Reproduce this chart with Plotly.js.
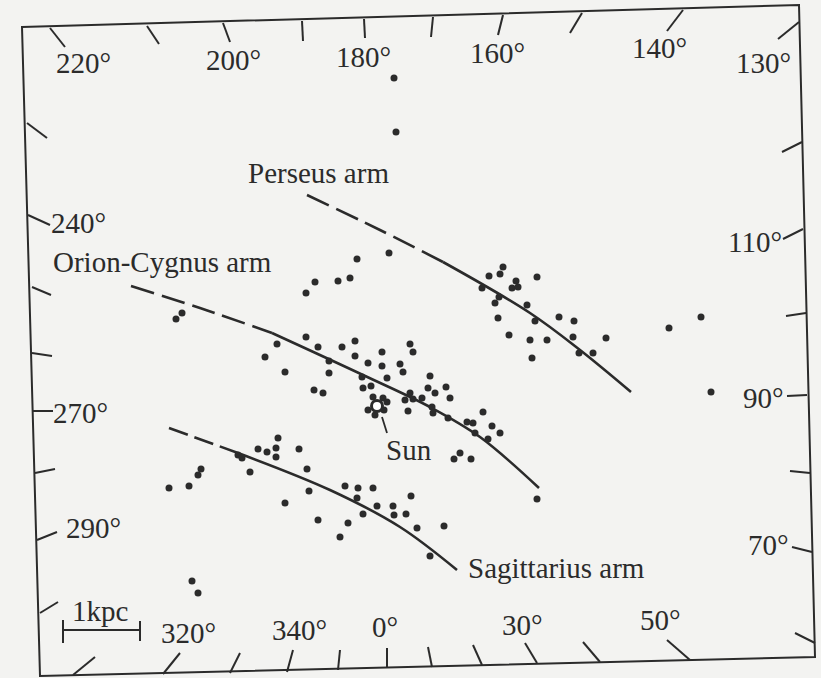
<!DOCTYPE html>
<html>
<head>
<meta charset="utf-8">
<script src="https://cdn.plot.ly/plotly-3.0.1.min.js"></script>
<style>html,body{margin:0;padding:0;background:#f3f3f1;}#chart{width:821px;height:678px;}</style>
</head>
<body>
<div id="chart"></div>
<script>
// ---- Data (map units) ----
// HII regions / young objects
const dotX = [394,396,389,357,315,306,338,350,176,182,
  306,277,265,318,329,285,329,314,323,342,355,355,368,382,382,410,413,400,403,387,362,363,371,430,428,435,446,450,410,413,405,422,408,432,433,448,467,473,475,483,492,500,488,460,454,471,537,
  368,373,383,387,384,375,
  489,500,503,537,482,512,516,518,495,499,527,498,535,559,574,509,530,547,573,606,579,593,532,669,701,711,
  278,258,267,276,276,299,238,242,250,307,309,201,198,189,169,285,345,358,373,357,411,377,393,363,394,406,318,348,340,417,444,430,192,198];
const dotY = [78,132,253,259,282,293,281,278,319,313,
  337,344,357,347,361,372,373,390,393,347,341,356,363,352,366,344,352,364,372,378,377,388,386,376,388,393,387,398,393,399,400,398,411,407,413,418,422,423,433,412,426,433,439,453,459,459,499,
  410,397,398,402,410,415,
  276,274,267,277,288,288,281,287,303,297,305,318,321,317,321,335,340,340,337,338,353,353,358,328,317,392,
  438,449,452,448,457,449,455,458,472,469,491,469,475,486,488,503,486,488,488,498,496,506,506,514,515,514,520,523,537,528,526,556,581,593];

// Sun position
const sunX = [377];
const sunY = [406];

// Spiral arms (dashed part, then solid part)
const perseusDashX = [307,380,443];
const perseusDashY = [195,230,262];
const perseusX = [443,530,580,631];
const perseusY = [262,313,350,392];

const orionDashX = [131,200,272];
const orionDashY = [286,308,333];
const orionX = [272,363,430,480,539];
const orionY = [333,375,407,437,488];

const sagDashX = [169,238];
const sagDashY = [428,453];
const sagX = [238,330,400,457];
const sagY = [453,490,527,570];

// Galactic longitude labels
const lonLabels = ["220°","200°","180°","160°","140°","130°","110°","90°","70°","50°","30°","0°","340°","320°","290°","270°","240°"];
const lonLabelX = [83,233,363,497,659,763,755,763,768,660,522,385,299,188,93,80,78];
const lonLabelY = [63,60,57,53,48,63,242,398,545,620,625,627,630,633,528,413,223];

const armLabels = ["Perseus arm","Orion-Cygnus arm","Sagittarius arm","Sun","1kpc"];
const armLabelX = [318,162,556,409,100];
const armLabelY = [173,262,568,450,611];

// ---- Styling ----
const INK = '#2b2b2b';
const FONT = 'Liberation Serif, Times New Roman, serif';

const traces = [];
function arm(x, y, dash) {
  traces.push({x: x, y: y, mode: 'lines', type: 'scatter', hoverinfo: 'skip',
    line: {color: INK, width: 2.6, dash: dash, shape: 'spline', smoothing: 1}});
}
arm(perseusDashX, perseusDashY, '24px,8px');
arm(perseusX, perseusY, 'solid');
arm(orionDashX, orionDashY, '24px,8px');
arm(orionX, orionY, 'solid');
arm(sagDashX, sagDashY, '20px,7px');
arm(sagX, sagY, 'solid');

traces.push({x: dotX, y: dotY, mode: 'markers', type: 'scatter',
  marker: {color: INK, size: 7, line: {width: 0}}});
traces.push({x: sunX, y: sunY, mode: 'markers', type: 'scatter',
  marker: {color: '#ffffff', size: 11, line: {color: INK, width: 3}}});

// Frame (slightly rotated scan) and border ticks
const frame = {type: 'path', path: 'M22,27 L799,5 L815,657 L40,676 Z', line: {color: INK, width: 2}, xref: 'x', yref: 'y'};
const ticks = [
  [50,28,65,47],[147,26,159,44],[223,23,230,42],[302,21,303,41],[364,19,365,38],
  [433,17,431,37],[503,15,498,35],[582,13,570,33],[683,10,667,31],
  [799,22,778,39],[802,142,782,152],[803,229,783,239],[806,313,786,316],[807,395,787,396],
  [810,473,790,471],[812,552,792,547],[815,643,795,633],
  [690,660,667,640],[600,662,583,642],[537,663,525,643],[482,665,473,645],[432,667,428,647],
  [387,668,387,648],[338,670,340,650],[287,672,293,650],[230,673,240,653],[163,674,180,653],[73,675,95,657],
  [40,613,58,602],[37,540,57,532],[35,473,55,469],[33,411,53,411],[32,353,52,356],[32,287,51,295],[28,215,50,225],[27,123,47,138]
];
const shapes = [frame];
ticks.forEach(t => shapes.push({type: 'line', x0: t[0], y0: t[1], x1: t[2], y1: t[3], xref: 'x', yref: 'y', line: {color: INK, width: 2}}));
// scale bar
shapes.push({type: 'line', x0: 63, y0: 630, x1: 140, y1: 630, xref: 'x', yref: 'y', line: {color: INK, width: 2}});
shapes.push({type: 'line', x0: 63, y0: 620, x1: 63, y1: 643, xref: 'x', yref: 'y', line: {color: INK, width: 2}});
shapes.push({type: 'line', x0: 140, y0: 621, x1: 140, y1: 641, xref: 'x', yref: 'y', line: {color: INK, width: 2}});
// Sun pointer
shapes.push({type: 'line', x0: 382, y0: 417, x1: 387, y1: 433, xref: 'x', yref: 'y', line: {color: INK, width: 1.8}});

const annotations = [];
lonLabels.forEach((t, i) => annotations.push({text: t, x: lonLabelX[i], y: lonLabelY[i], xref: 'x', yref: 'y', showarrow: false,
  font: {family: FONT, size: 29, color: INK}}));
armLabels.forEach((t, i) => annotations.push({text: t, x: armLabelX[i], y: armLabelY[i], xref: 'x', yref: 'y', showarrow: false,
  font: {family: FONT, size: 29, color: INK}}));

const layout = {
  width: 821, height: 678,
  margin: {l: 0, r: 0, t: 0, b: 0},
  paper_bgcolor: '#f3f3f1', plot_bgcolor: '#f3f3f1',
  showlegend: false,
  xaxis: {range: [0, 821], visible: false, fixedrange: true},
  yaxis: {range: [678, 0], visible: false, fixedrange: true},
  shapes: shapes,
  annotations: annotations
};
Plotly.newPlot('chart', traces, layout, {displayModeBar: false, staticPlot: true});
</script>
</body>
</html>
